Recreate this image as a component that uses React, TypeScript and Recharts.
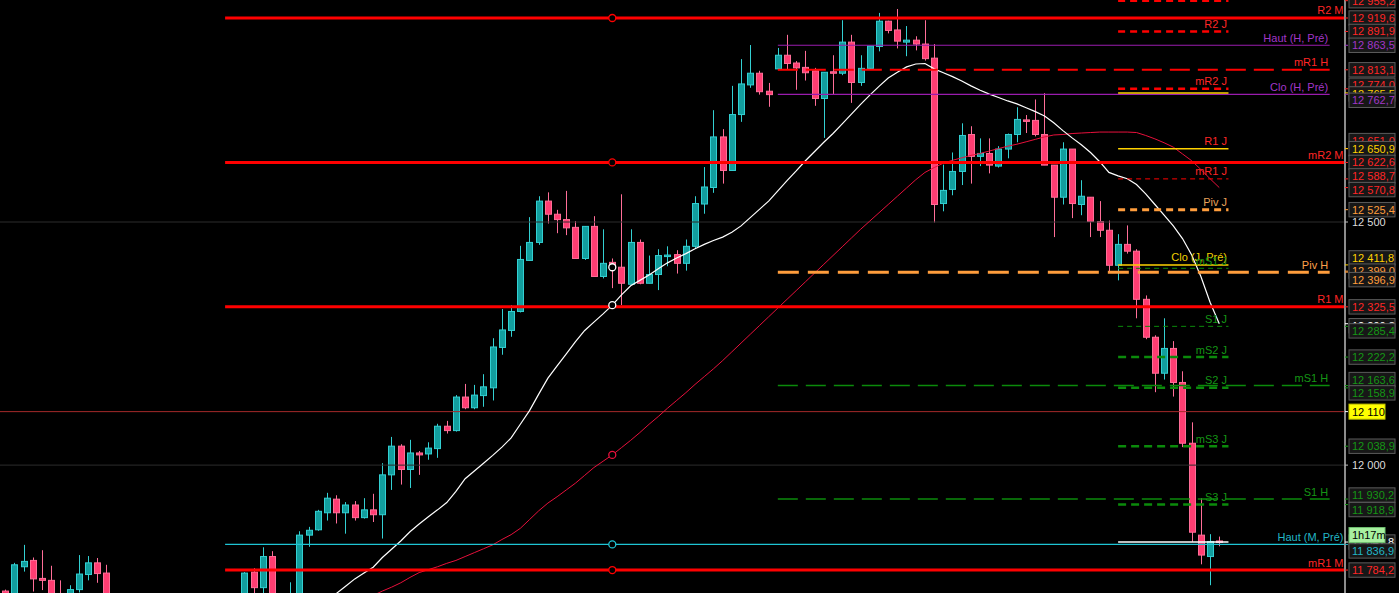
import React from "react";
import {
  ComposedChart,
  Bar,
  Line,
  XAxis,
  YAxis,
  ReferenceLine,
  ReferenceDot,
} from "recharts";

// candles, oldest first
const opens = [
  11741, 11720, 11791, 11804, 11767, 11763, 11730, 11720, 11744, 11775,
  11799, 11778, 11735, 11700, 11690, 11675, 11695, 11688, 11660, 11685,
  11705, 11695, 11718, 11705, 11722, 11712, 11730, 11780, 11748, 11812,
  11725, 11700, 11725, 11856, 11867, 11902, 11930, 11902, 11918, 11892,
  11908, 11898, 11980, 12039, 11991, 12025, 12023, 12034, 12080, 12071,
  12140, 12118, 12143, 12159, 12242, 12277, 12316, 12421, 12458, 12543,
  12516, 12505, 12489, 12425, 12491, 12388, 12417, 12407, 12372, 12458,
  12374, 12392, 12430, 12433, 12415, 12450, 12537, 12571, 12675, 12606,
  12721, 12782, 12806, 12769, 12815, 12843, 12827, 12818, 12811, 12754,
  12809, 12806, 12870, 12787, 12816, 12861, 12913, 12895, 12870, 12874,
  12866, 12837, 12538, 12567, 12604, 12680, 12635, 12641, 12615, 12650,
  12680, 12710, 12709, 12680, 12617, 12551, 12650, 12536, 12551, 12501,
  12483, 12411, 12454, 12440, 12341, 12263, 12189, 12240, 12170, 12045,
  11856, 11812, 11844,
];
const highs = [
  11744, 11799, 11836, 11810, 11825, 11793, 11763, 11753, 11815, 11813,
  11809, 11795, 11736, 11715, 11705, 11700, 11712, 11700, 11690, 11710,
  11720, 11725, 11730, 11728, 11733, 11734, 11780, 11788, 11831, 11823,
  11734, 11759, 11864, 11873, 11908, 11943, 11938, 11924, 11926, 11932,
  11941, 12004, 12058, 12043, 12052, 12029, 12047, 12085, 12091, 12144,
  12167, 12165, 12187, 12261, 12321, 12329, 12451, 12510, 12553, 12561,
  12525, 12564, 12502, 12491, 12512, 12485, 12425, 12557, 12485, 12464,
  12431, 12444, 12450, 12442, 12464, 12553, 12613, 12730, 12691, 12780,
  12835, 12864, 12811, 12786, 12858, 12885, 12831, 12852, 12817, 12808,
  12843, 12915, 12885, 12843, 12862, 12930, 12914, 12938, 12903, 12882,
  12915, 12866, 12618, 12643, 12703, 12697, 12672, 12672, 12656, 12682,
  12736, 12720, 12752, 12765, 12617, 12664, 12650, 12586, 12551, 12543,
  12503, 12475, 12493, 12444, 12349, 12267, 12302, 12255, 12193, 12088,
  11932, 11858, 11853,
];
const lows = [
  11690, 11700, 11781, 11740, 11743, 11710, 11700, 11710, 11738, 11763,
  11758, 11720, 11690, 11670, 11660, 11665, 11680, 11650, 11655, 11670,
  11690, 11690, 11700, 11695, 11705, 11700, 11715, 11730, 11735, 11710,
  11690, 11690, 11715, 11832, 11865, 11886, 11880, 11859, 11886, 11890,
  11883, 11849, 11949, 11960, 11953, 11980, 12011, 12015, 12065, 12069,
  12115, 12115, 12120, 12133, 12227, 12264, 12314, 12421, 12453, 12497,
  12477, 12473, 12424, 12422, 12388, 12384, 12364, 12329, 12372, 12372,
  12374, 12360, 12409, 12394, 12400, 12446, 12517, 12560, 12579, 12605,
  12706, 12776, 12762, 12737, 12815, 12813, 12772, 12791, 12739, 12673,
  12763, 12802, 12745, 12780, 12815, 12851, 12888, 12857, 12841, 12853,
  12832, 12499, 12522, 12555, 12576, 12579, 12615, 12600, 12612, 12631,
  12664, 12683, 12676, 12617, 12469, 12536, 12508, 12514, 12469, 12469,
  12397, 12380, 12435, 12302, 12259, 12150, 12176, 12141, 12037, 11842,
  11796, 11753, 11833,
];
const closes = [
  11700, 11795, 11802, 11766, 11763, 11725, 11715, 11744, 11776, 11799,
  11777, 11735, 11700, 11690, 11675, 11695, 11688, 11660, 11685, 11705,
  11695, 11718, 11705, 11722, 11712, 11730, 11778, 11748, 11812, 11725,
  11700, 11730, 11856, 11866, 11905, 11932, 11902, 11918, 11892, 11908,
  11898, 11980, 12039, 11991, 12025, 12021, 12035, 12080, 12071, 12140,
  12118, 12144, 12161, 12243, 12278, 12316, 12423, 12458, 12543, 12516,
  12505, 12488, 12425, 12491, 12388, 12415, 12407, 12374, 12458, 12374,
  12392, 12431, 12432, 12415, 12450, 12538, 12572, 12675, 12606, 12721,
  12784, 12806, 12768, 12762, 12843, 12826, 12817, 12807, 12754, 12808,
  12806, 12870, 12787, 12816, 12862, 12913, 12894, 12872, 12874, 12866,
  12836, 12536, 12565, 12604, 12678, 12635, 12641, 12617, 12650, 12680,
  12711, 12708, 12680, 12617, 12551, 12650, 12538, 12553, 12501, 12483,
  12411, 12454, 12440, 12341, 12263, 12189, 12240, 12170, 12045, 11862,
  11815, 11843, 11842,
];

// moving averages (white = fast, red = slow), starting at the given candle
const FAST_START = 34;
const fastMa = [
  11705, 11720, 11736, 11751, 11766, 11778, 11790, 11810, 11827, 11844,
  11863, 11879, 11894, 11908, 11923, 11946, 11972, 11988, 12004, 12020,
  12037, 12056, 12084, 12112, 12146, 12179, 12204, 12229, 12254, 12277,
  12294, 12311, 12329, 12350, 12369, 12380, 12391, 12404, 12416, 12426,
  12435, 12445, 12454, 12462, 12469, 12479, 12492, 12509, 12526, 12543,
  12564, 12585, 12605, 12626, 12645, 12664, 12682, 12702, 12722, 12742,
  12761, 12779, 12796, 12808, 12819, 12825, 12826, 12815, 12807, 12799,
  12790, 12780, 12771, 12763, 12756, 12749, 12743, 12735, 12727, 12718,
  12704, 12688, 12673, 12659, 12643, 12624, 12602, 12595, 12589, 12577,
  12558, 12536, 12514, 12492, 12466, 12432, 12388, 12335, 12290.8,
];
const SLOW_START = 39;
const slowMa = [
  11722, 11732, 11741, 11749, 11758, 11769, 11779, 11785, 11791, 11798,
  11804, 11812, 11820, 11828, 11836, 11847, 11857, 11870, 11888, 11906,
  11922, 11935, 11949, 11963, 11979, 11995, 12008, 12021, 12036, 12051,
  12067, 12084, 12100, 12117, 12133, 12149, 12166, 12182, 12198, 12215,
  12233, 12251, 12269, 12287, 12305, 12323, 12341, 12359, 12377, 12395,
  12413, 12431, 12449, 12467, 12485, 12502, 12519, 12536, 12553, 12570,
  12587, 12602, 12612, 12621, 12627, 12632, 12637, 12641, 12646, 12651,
  12656, 12660, 12665, 12670, 12675, 12679, 12680, 12682, 12683, 12684,
  12685, 12685, 12685, 12685, 12684, 12678, 12671, 12663, 12654, 12640,
  12626, 12608, 12589, 12570.8,
];

// pivot levels
const monthNames = ["R2 M", "mR2 M", "R1 M", "Haut (M, Pré)", "mR1 M"];
const monthLevels = [12919.6, 12622.6, 12325.5, 11836.9, 11784.2];
const weekNames = ["Haut (H, Pré)", "mR1 H", "Clo (H, Pré)", "Piv H", "mS1 H", "S1 H"];
const weekLevels = [12863.5, 12813.1, 12762.7, 12396.9, 12163.6, 11930.2];
const dayNames = [
  "R3 J", "R2 J", "mR2 J", "Haut (J, Pré)", "R1 J", "mR1 J", "Piv J",
  "Clo (J, Pré)", "mS1 J", "S1 J", "mS2 J", "S2 J", "mS3 J", "S3 J", "Dernier",
];
const dayLevels = [
  12955.2, 12891.9, 12774.0, 12765.5, 12650.9, 12588.7, 12525.4,
  12411.8, 12404.8, 12285.4, 12222.2, 12158.9, 12038.9, 11918.9, 11841.8,
];
const gridLevels = [12500, 12000];
const alertLevel = 12110;
const markerLevels = [12919.6, 12622.6, 12407, 12329, 12021, 11836.9, 11784.2];
const axisValues = [
  12955.2, 12919.6, 12891.9, 12863.5, 12813.1, 12774.0, 12765.5, 12762.7,
  12651.0, 12650.9, 12622.6, 12588.7, 12570.8, 12525.4, 12500, 12411.8,
  12399.0, 12396.9, 12325.5, 12290.8, 12285.4, 12222.2, 12163.6, 12158.9,
  12110, 12038.9, 12000, 11930.2, 11918.9, 11841.8, 11836.9, 11784.2,
];
const timerText = "1h17m";

// ---- layout / styles
const W = 1399;
const H = 593;
const X_MIN = -0.576;
const X_MAX = 145.67;
const Y_MIN = 11737.0;
const Y_MAX = 12956.6;
const M_FROM = 23.9;
const H_FROM = 84;
const H_TO = 144;
const J_FROM = 121;
const J_TO = 133;
const MARK_X = 66;

const RED = "#ff0000";
const RED_TXT = "#ff2626";
const PURPLE = "#9a1cae";
const PURPLE_TXT = "#a236c8";
const YELLOW = "#ffd200";
const ORANGE = "#ff9d3c";
const GREEN = "#0b8a0b";
const GREEN_TXT = "#159515";
const CYAN = "#1fc4d4";
const UP_FILL = "#129e9e";
const UP_LINE = "#33d0d2";
const DN_FILL = "#ff3d72";
const DN_LINE = "#ff6e98";

type LStyle = { stroke: string; width: number; dash?: string; text?: string };
const levelStyle: Record<string, LStyle> = {
  "R2 M": { stroke: RED, width: 3, text: RED_TXT },
  "mR2 M": { stroke: RED, width: 3, text: RED_TXT },
  "R1 M": { stroke: RED, width: 3, text: RED_TXT },
  "mR1 M": { stroke: RED, width: 3, text: RED_TXT },
  "Haut (M, Pré)": { stroke: CYAN, width: 1.2, text: "#22b6c6" },
  "Haut (H, Pré)": { stroke: PURPLE, width: 1.2, text: PURPLE_TXT },
  "Clo (H, Pré)": { stroke: PURPLE, width: 1.2, text: PURPLE_TXT },
  "mR1 H": { stroke: RED, width: 2, dash: "20 8", text: RED_TXT },
  "Piv H": { stroke: ORANGE, width: 3, dash: "21 9", text: "#ffa04a" },
  "mS1 H": { stroke: GREEN, width: 1.5, dash: "20 8", text: GREEN_TXT },
  "S1 H": { stroke: GREEN, width: 1.5, dash: "20 8", text: GREEN_TXT },
  "R3 J": { stroke: RED, width: 2.5, dash: "7 5" },
  "R2 J": { stroke: RED, width: 2.5, dash: "7 5", text: RED_TXT },
  "mR2 J": { stroke: RED, width: 2.5, dash: "7 5", text: RED_TXT },
  "Haut (J, Pré)": { stroke: YELLOW, width: 1.5 },
  "R1 J": { stroke: YELLOW, width: 1.5, text: RED_TXT },
  "mR1 J": { stroke: RED, width: 1, dash: "5 4", text: RED_TXT },
  "Piv J": { stroke: ORANGE, width: 3, dash: "7 5", text: "#e9a25a" },
  "Clo (J, Pré)": { stroke: YELLOW, width: 1.5, text: "#f2d000" },
  "mS1 J": { stroke: GREEN, width: 1, dash: "5 4", text: GREEN_TXT },
  "S1 J": { stroke: GREEN, width: 1, dash: "5 4", text: GREEN_TXT },
  "mS2 J": { stroke: GREEN, width: 2.5, dash: "8 5", text: GREEN_TXT },
  "S2 J": { stroke: GREEN, width: 2.5, dash: "8 5", text: GREEN_TXT },
  "mS3 J": { stroke: GREEN, width: 2.5, dash: "8 5", text: GREEN_TXT },
  "S3 J": { stroke: GREEN, width: 2.5, dash: "8 5", text: GREEN_TXT },
  Dernier: { stroke: "#ffffff", width: 1.5 },
};
const markerColors = [RED, RED, "#ffffff", "#ffffff", "#e8103c", CYAN, RED];

// axis price boxes; dy = the platform's nudge to keep boxes apart
type AStyle = { color: string; kind?: "grid" | "alert" | "now"; dy?: number };
const axisStyle: Record<string, AStyle> = {
  "12955.2": { color: RED_TXT },
  "12919.6": { color: RED_TXT },
  "12891.9": { color: RED_TXT },
  "12863.5": { color: PURPLE_TXT },
  "12813.1": { color: RED_TXT },
  "12774.0": { color: RED_TXT, dy: -3.5 },
  "12765.5": { color: YELLOW, dy: 1 },
  "12762.7": { color: PURPLE_TXT, dy: 6 },
  "12651.0": { color: RED_TXT, dy: -8 },
  "12650.9": { color: YELLOW },
  "12622.6": { color: RED_TXT },
  "12588.7": { color: RED_TXT, dy: -3 },
  "12570.8": { color: RED_TXT, dy: 2 },
  "12525.4": { color: ORANGE },
  "12500.0": { color: "#dcdcdc", kind: "grid" },
  "12411.8": { color: YELLOW, dy: -7 },
  "12399.0": { color: ORANGE },
  "12396.9": { color: ORANGE, dy: 7.5 },
  "12325.5": { color: RED_TXT },
  "12290.8": { color: "#ffffff", dy: 2 },
  "12285.4": { color: GREEN_TXT, dy: 4.5 },
  "12222.2": { color: GREEN_TXT },
  "12163.6": { color: GREEN_TXT, dy: -6 },
  "12158.9": { color: GREEN_TXT, dy: 5 },
  "12110.0": { color: "#000000", kind: "alert" },
  "12038.9": { color: GREEN_TXT },
  "12000.0": { color: "#dcdcdc", kind: "grid" },
  "11930.2": { color: GREEN_TXT, dy: -4 },
  "11918.9": { color: GREEN_TXT, dy: 5 },
  "11841.8": { color: "#ffffff", kind: "now" },
  "11836.9": { color: "#22b6c6", dy: 6.5 },
  "11784.2": { color: RED_TXT },
};

const fmt = (v: number, dec: number) => {
  const [a, b] = v.toFixed(dec).split(".");
  const t = a.slice(0, -3) + " " + a.slice(-3);
  return b ? t + "," + b : t;
};

const rows = opens.map((o, i) => ({
  i,
  open: o,
  high: highs[i],
  low: lows[i],
  close: closes[i],
  fast: i >= FAST_START ? fastMa[i - FAST_START] : null,
  slow: i >= SLOW_START ? slowMa[i - SLOW_START] : null,
}));

const Candle = (props: any) => {
  const { x, y, width, height, payload } = props;
  if (!payload || !isFinite(y) || !isFinite(height)) return null;
  const { open, close, high, low } = payload;
  const top0 = Math.min(y, y + height);
  const h = Math.abs(height);
  const k = h / (high - low);
  const py = (p: number) => top0 + (high - p) * k;
  const cx = Math.round(x + width / 2) + 0.5;
  const up = close >= open;
  const bTop = py(Math.max(open, close));
  const bBot = py(Math.min(open, close));
  return (
    <g>
      <line x1={cx} x2={cx} y1={top0} y2={top0 + h} stroke={up ? UP_LINE : DN_LINE} strokeWidth={1} />
      <rect
        x={cx - 3}
        y={bTop}
        width={6}
        height={Math.max(bBot - bTop, 1.5)}
        fill={up ? UP_FILL : DN_FILL}
        stroke={up ? UP_LINE : DN_LINE}
        strokeWidth={1}
      />
    </g>
  );
};

const levelLabel = (text: string, color: string) => (props: any) => {
  const vb = props.viewBox || { x: 0, y: 0, width: 0, height: 0 };
  return (
    <text x={vb.x + vb.width - 1.5} y={vb.y - 3.5} textAnchor="end" fill={color} fontSize={11}>
      {text}
    </text>
  );
};

const PriceTick = (props: any) => {
  const { x, y, payload } = props;
  const v = Number(payload.value);
  const st = axisStyle[v.toFixed(1)] || { color: "#ccc" };
  if (st.kind === "grid") {
    return (
      <g>
        <line x1={x - 4} x2={x - 1} y1={y} y2={y} stroke="#bbb" />
        <text x={x + 3} y={y + 4} fill={st.color} fontSize={11}>{fmt(v, 0)}</text>
      </g>
    );
  }
  if (st.kind === "alert") {
    return (
      <g>
        <line x1={x - 4} x2={x - 1} y1={y} y2={y} stroke="#fff" />
        <rect x={x} y={y - 7.5} width={36} height={15} fill="#ffff00" stroke="#c8c800" />
        <text x={x + 3} y={y + 4} fill="#000" fontSize={11}>{fmt(v, 0)}</text>
      </g>
    );
  }
  const by = y + (st.dy || 0);
  return (
    <g>
      <line x1={x - 4} x2={x - 1} y1={y} y2={y} stroke={st.color} />
      <rect x={x} y={by - 7.2} width={46} height={14.4} fill="#171717" stroke="#5c5c5c" />
      <text x={x + 3} y={by + 4} fill={st.color} fontSize={11}>{fmt(v, 1)}</text>
      {st.kind === "now" && (
        <g>
          <rect x={x} y={y - 14.5} width={36} height={15} fill="#a8f0a0" stroke="#70c070" />
          <text x={x + 3} y={y - 3} fill="#000" fontSize={11}>{timerText}</text>
        </g>
      )}
    </g>
  );
};

const renderSeg = (name: string, v: number, from: number, to: number) => {
  const s = levelStyle[name];
  return (
    <ReferenceLine
      key={name}
      segment={[{ x: from, y: v }, { x: to, y: v }]}
      stroke={s.stroke}
      strokeWidth={s.width}
      strokeDasharray={s.dash}
      ifOverflow="visible"
      label={s.text ? levelLabel(name, s.text) : undefined}
    />
  );
};

export default function App() {
  return (
    <div
      style={{
        width: W,
        height: H,
        background: "#000",
        fontFamily: "'Liberation Sans', Arial, sans-serif",
      }}
    >
      <style>{"html,body{margin:0;padding:0;background:#000;}"}</style>
      <ComposedChart width={W} height={H} data={rows} margin={{ top: 0, right: 0, bottom: 0, left: 0 }}>
        <XAxis type="number" dataKey="i" domain={[X_MIN, X_MAX]} allowDataOverflow hide />
        <YAxis
          orientation="right"
          width={54}
          type="number"
          domain={[Y_MIN, Y_MAX]}
          allowDataOverflow
          ticks={axisValues}
          interval={0}
          tick={<PriceTick />}
          tickLine={false}
          tickSize={0}
          tickMargin={4}
          axisLine={{ stroke: "#8c8c8c", strokeWidth: 2 }}
        />
        {gridLevels.map((v) => (
          <ReferenceLine key={"g" + v} y={v} stroke="#2c2c2c" strokeWidth={1} />
        ))}
        <ReferenceLine y={alertLevel} stroke="#a52a2a" strokeWidth={1} />
        <Bar
          dataKey={(d: any) => [d.low, d.high]}
          shape={Candle}
          barSize={7}
          isAnimationActive={false}
        />
        <Line dataKey="slow" stroke="#e8103c" strokeWidth={1} dot={false} isAnimationActive={false} />
        <Line dataKey="fast" stroke="#ffffff" strokeWidth={1.2} dot={false} isAnimationActive={false} />
        {weekNames.map((n, k) => renderSeg(n, weekLevels[k], H_FROM, H_TO))}
        {dayNames.map((n, k) => renderSeg(n, dayLevels[k], J_FROM, J_TO))}
        {monthNames.map((n, k) => renderSeg(n, monthLevels[k], M_FROM, X_MAX))}
        {markerLevels.map((v, k) => (
          <ReferenceDot
            key={"d" + k}
            x={MARK_X}
            y={v}
            r={3.5}
            fill="#000"
            stroke={markerColors[k]}
            strokeWidth={1.3}
          />
        ))}
      </ComposedChart>
    </div>
  );
}
